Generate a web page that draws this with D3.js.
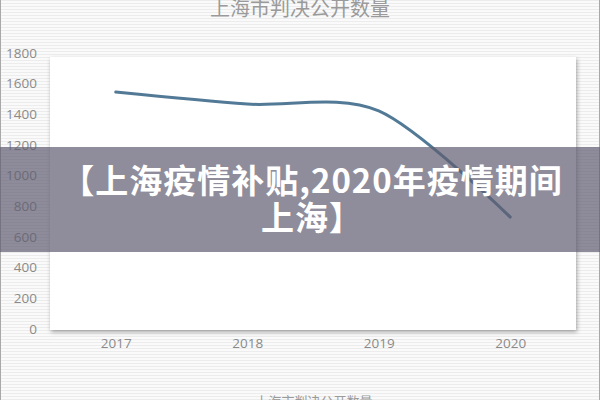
<!DOCTYPE html>
<html>
<head>
<meta charset="utf-8">
<script src="https://cdn.jsdelivr.net/npm/d3@7"></script>
<style>
  body { margin: 0; background: #fff; }
  svg { display: block; }
</style>
</head>
<body>
<div id="canvas"></div>
<script>
const years = ["2017", "2018", "2019", "2020"];
const counts = [1545, 1467, 1422, 730];
const yTicks = [0, 200, 400, 600, 800, 1000, 1200, 1400, 1600, 1800];
const chartTitle = "上海市判决公开数量";
const bannerLines = ["【上海疫情补贴,2020年疫情期间", "上海】"];

const width = 600;
const height = 400;
const plot = { left: 50, right: 576, top: 57, bottom: 330 };

const svg = d3.select("#canvas").append("svg")
  .attr("width", width)
  .attr("height", height);

const defs = svg.append("defs");

// striped background
const pat = defs.append("pattern")
  .attr("id", "stripes")
  .attr("width", 6)
  .attr("height", 3)
  .attr("patternUnits", "userSpaceOnUse");
pat.append("rect").attr("width", 6).attr("height", 3).attr("fill", "#fafafa");
pat.append("rect").attr("width", 6).attr("height", 1).attr("fill", "#ececec");

const shadow = defs.append("filter")
  .attr("id", "shadow")
  .attr("x", "-5%").attr("y", "-5%")
  .attr("width", "110%").attr("height", "115%");
shadow.append("feDropShadow")
  .attr("dx", 1).attr("dy", 2)
  .attr("stdDeviation", 2)
  .attr("flood-color", "#000")
  .attr("flood-opacity", 0.35);

svg.append("rect")
  .attr("width", width)
  .attr("height", height)
  .attr("fill", "url(#stripes)");

svg.append("rect")
  .attr("x", 0.5).attr("y", -1)
  .attr("width", width - 1).attr("height", height + 2)
  .attr("fill", "none")
  .attr("stroke", "#a8a8a8");

// plot panel
svg.append("rect")
  .attr("x", plot.left)
  .attr("y", plot.top)
  .attr("width", plot.right - plot.left)
  .attr("height", plot.bottom - plot.top)
  .attr("fill", "#fff")
  .attr("filter", "url(#shadow)");

const x = d3.scalePoint()
  .domain(years)
  .range([plot.left, plot.right])
  .padding(0.5);

const y = d3.scaleLinear()
  .domain([0, 1800])
  .range([329, 53]);

// y axis labels
const yAxis = svg.append("g")
  .attr("transform", `translate(44,0)`)
  .call(d3.axisLeft(y).tickValues(yTicks).tickFormat(d3.format("d"))
    .tickSize(0).tickPadding(7));
yAxis.select(".domain").remove();
yAxis.selectAll("text")
  .attr("fill", "#8a8a8a")
  .style("font-family", "'Open Sans', 'Noto Sans', sans-serif")
  .style("font-size", "13.5px");

// x axis labels
const xAxis = svg.append("g")
  .attr("transform", `translate(0,338)`)
  .call(d3.axisBottom(x).tickSize(0).tickPadding(0));
xAxis.select(".domain").remove();
xAxis.selectAll("text")
  .attr("fill", "#8a8a8a")
  .attr("dy", "0.71em")
  .style("font-family", "'Open Sans', 'Noto Sans', sans-serif")
  .style("font-size", "13.5px");

// line
const line = d3.line()
  .x((d, i) => x(years[i]))
  .y((d) => y(d))
  .curve(d3.curveCardinal.tension(0.1));

svg.append("path")
  .datum(counts)
  .attr("d", line)
  .attr("fill", "none")
  .attr("stroke", "#527a96")
  .attr("stroke-width", 3)
  .attr("stroke-linecap", "round");

// titles
svg.append("text")
  .attr("x", 300)
  .attr("y", 16)
  .attr("text-anchor", "middle")
  .attr("fill", "#9a9a9a")
  .style("font-family", "'Noto Sans CJK SC', sans-serif")
  .style("font-size", "20px")
  .text(chartTitle);

svg.append("text")
  .attr("x", 314)
  .attr("y", 406)
  .attr("text-anchor", "middle")
  .attr("fill", "#9a9a9a")
  .style("font-family", "'Noto Sans CJK SC', sans-serif")
  .style("font-size", "13px")
  .text(chartTitle);

// overlay banner
svg.append("rect")
  .attr("x", 0)
  .attr("y", 147)
  .attr("width", width)
  .attr("height", 105)
  .attr("fill", "#5f5d70")
  .attr("opacity", 0.7);

svg.selectAll(".banner")
  .data(bannerLines)
  .enter()
  .append("text")
  .attr("class", "banner")
  .attr("x", 312)
  .attr("y", (d, i) => 193 + i * 37)
  .attr("text-anchor", "middle")
  .attr("fill", "#fff")
  .style("font-family", "'Noto Sans CJK SC', sans-serif")
  .style("font-weight", "bold")
  .style("font-size", "33px")
  .style("letter-spacing", "1px")
  .text((d) => d);
</script>
</body>
</html>
